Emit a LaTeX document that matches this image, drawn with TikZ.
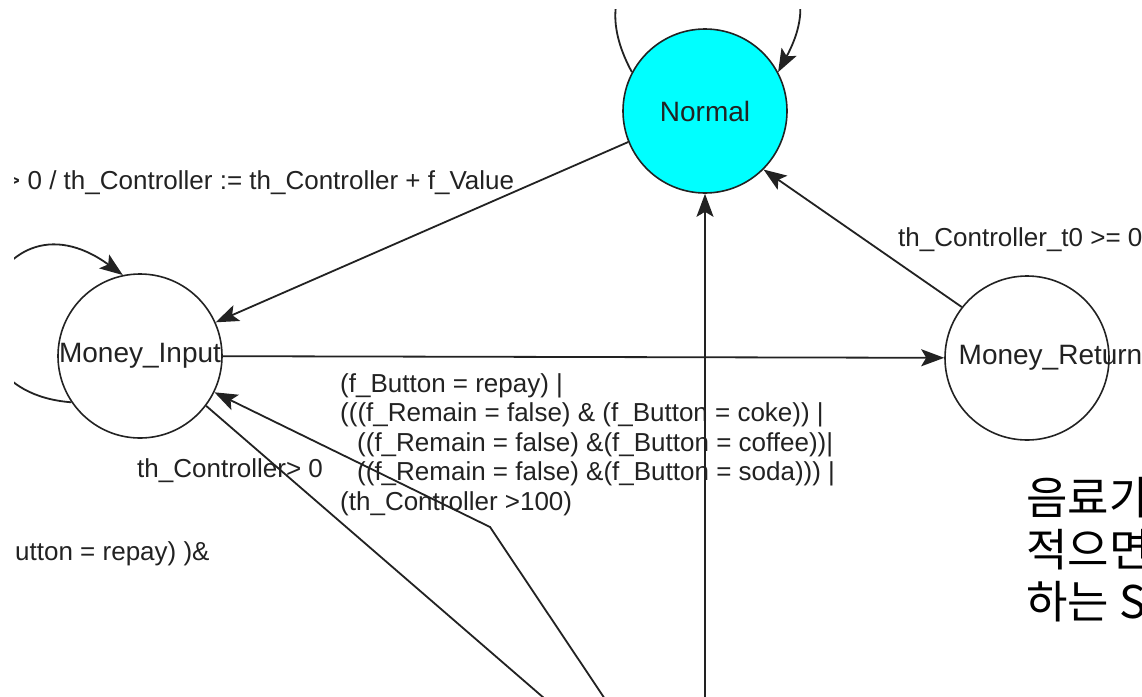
\documentclass[tikz,border=0pt]{standalone}
\usepackage{fontspec}
\setmainfont{Liberation Sans}
\newfontfamily\krfont{Noto Sans CJK KR}
\usetikzlibrary{arrows.meta}
\definecolor{stcyan}{RGB}{0,255,255}
\definecolor{inkgray}{RGB}{34,34,34}

\begin{document}
\begin{tikzpicture}[x=1pt,y=-1pt,
  state/.style={circle,draw=inkgray,line width=1.6pt,fill=white,
    minimum size=164pt,inner sep=0pt,text=inkgray,
    font=\fontsize{28}{32}\selectfont},
  wire/.style={draw=inkgray,line width=1.8pt},
  tr/.style={wire,-{Stealth[length=23pt,width=17pt,inset=5pt]}},
  lbl/.style={text=inkgray,inner sep=0pt,font=\fontsize{26}{29.5}\selectfont},
  note/.style={text=black,inner sep=0pt,align=left,
    font=\krfont\fontsize{45}{52}\selectfont},
]
\useasboundingbox (0,0) rectangle (1142,696);
\fill[white] (0,0) rectangle (1142,696);

\begin{scope}
\clip (14,9) rectangle (1142,696);

% states
\node[state,fill=stcyan] (normal) at (705,111) {Normal};
\node[state] (input) at (140,356) {Money\_Input};
\node[state] (return) at (1027,358) {\makebox[0pt]{\hspace*{47pt}Money\_Return}};

% loose ends of transitions to states further down
\coordinate (down1) at (705,705);
\coordinate (down2) at (609,705);
\coordinate (bend2) at (490,527);
\coordinate (down3) at (552,705);

% guard / action labels
\node[lbl,anchor=base west] (coinlbl) at (5,189)
  {> 0 / th\_Controller := th\_Controller + f\_Value};
\node[lbl,anchor=base west] (backlbl) at (898,246)
  {th\_Controller\_t0 >= 0};
\node[lbl,anchor=base west] (poslbl) at (137,477)
  {th\_Controller> 0};
\node[lbl,anchor=north west,align=left] (retlbl) at (340,373)
  {(f\_Button = repay) |\\
   (((f\_Remain = false) \& (f\_Button = coke)) |\\
   \hspace*{17pt}((f\_Remain = false) \&(f\_Button = coffee))|\\
   \hspace*{17pt}((f\_Remain = false) \&(f\_Button = soda))) |\\
   (th\_Controller >100)};
\node[lbl,anchor=base west] (repaylbl) at (15,560)
  {utton = repay) )\&};

% transitions
\draw[tr] (normal.152) .. controls +(-93,-172) and +(93,-172) .. (normal.28);
\draw[tr] (input.214) .. controls +(-152,-12) and +(-132,-96) .. (input.102);
\draw[tr] (normal.202) -- (input.24);
\draw[tr] (input) -- (return);
\draw[tr] (return.142) -- (normal.-45);
\draw[tr] (down1) -- (normal.south);
\draw[tr] (down2) -- (bend2) -- (input.-26);
\draw[wire] (input.-37) -- (down3);

% side note
\node[note,anchor=north west] (side) at (1026,477) {음료가\\적으면\\하는 S};
\end{scope}
\end{tikzpicture}
\end{document}
